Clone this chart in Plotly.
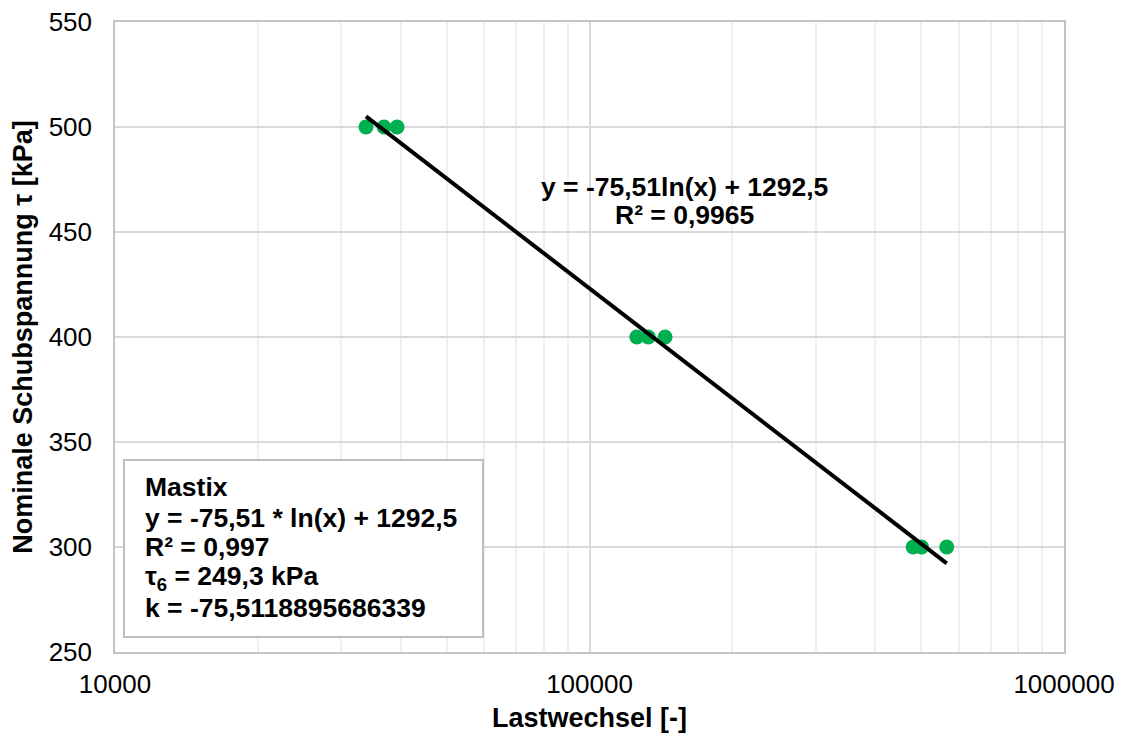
import numpy as np
import plotly.graph_objects as go

# Data
cycles = [33800, 36900, 39300, 125800, 133000, 144300, 481000, 501000, 566000]
stress = [500, 500, 500, 400, 400, 400, 300, 300, 300]

# Trendline coefficients as displayed (y = a*ln(x) + b)
coef_a = -75.5118895686339
coef_b = 1292.5

x_ticks = [10000, 100000, 1000000]
x_ticklabels = ["10000", "100000", "1000000"]
y_ticks = [250, 300, 350, 400, 450, 500, 550]

trend_x = [min(cycles), max(cycles)]
trend_y = [coef_a * np.log(v) + coef_b for v in trend_x]

FONT = "Liberation Sans, Arial, sans-serif"
TICK = 26
TTL = 27
ANN = 26.5

fig = go.Figure()
fig.add_trace(go.Scatter(x=cycles, y=stress, mode="markers",
                         marker=dict(size=15, color="#00B050"),
                         showlegend=False, hoverinfo="x+y"))
fig.add_trace(go.Scatter(x=trend_x, y=trend_y, mode="lines",
                         line=dict(color="black", width=4),
                         showlegend=False))

fig.update_layout(
    width=1123, height=735,
    margin=dict(l=115, r=59, t=22, b=83),
    paper_bgcolor="white", plot_bgcolor="white",
    font=dict(family=FONT, size=TICK, color="black"),
)
fig.update_xaxes(
    type="log", range=[4, 6], automargin=False,
    tickvals=x_ticks, ticktext=x_ticklabels,
    showgrid=True, gridcolor="#d9d9d9", gridwidth=1.5,
    minor=dict(dtick="D1", showgrid=True, gridcolor="#efefef", gridwidth=1.5),
    showline=True, linecolor="#c4c4c4", linewidth=1.5, mirror=True,
    ticks="", ticklabelstandoff=8,
    tickfont=dict(size=TICK),
    title=dict(text="<b>Lastwechsel [-]</b>", font=dict(size=TTL), standoff=10),
    zeroline=False,
)
fig.update_yaxes(
    range=[250, 550], tickvals=y_ticks, automargin=False,
    showgrid=True, gridcolor="#d9d9d9", gridwidth=1.5,
    showline=True, linecolor="#c4c4c4", linewidth=1.5, mirror=True,
    ticks="", ticklabelstandoff=16,
    tickfont=dict(size=TICK),
    title=dict(text="<b>Nominale Schubspannung τ [kPa]</b>", font=dict(size=TTL), standoff=8),
    zeroline=False,
)

# Trendline equation labels
fig.add_annotation(xref="paper", yref="paper", x=0.5996, y=0.738,
                   text="<b>y = -75,51ln(x) + 1292,5</b>", showarrow=False,
                   xanchor="center", yanchor="middle", font=dict(size=ANN))
fig.add_annotation(xref="paper", yref="paper", x=0.5996, y=0.6937,
                   text="<b>R² = 0,9965</b>", showarrow=False,
                   xanchor="center", yanchor="middle", font=dict(size=ANN))

# Info box
fig.add_shape(type="rect", xref="paper", yref="paper",
              x0=0.0095, x1=0.3878, y0=0.0238, y1=0.3048,
              line=dict(color="#bfbfbf", width=2), fillcolor="white", layer="above")
box_lines = ["<b>Mastix</b>",
             "<b>y = -75,51 * ln(x) + 1292,5</b>",
             "<b>R² = 0,997</b>",
             "<b>τ<sub>6</sub> = 249,3 kPa</b>",
             "<b>k = -75,5118895686339</b>"]
box_y = [0.2619, 0.2127, 0.1667, 0.1175, 0.0698]
for t, yy in zip(box_lines, box_y):
    fig.add_annotation(xref="paper", yref="paper", x=0.0295, y=yy, text=t,
                       showarrow=False, xanchor="left", yanchor="middle",
                       font=dict(size=ANN))

fig.write_html("out.html", config={"displayModeBar": False},
               post_script="document.body.style.margin='0';document.body.style.overflow='hidden';")
